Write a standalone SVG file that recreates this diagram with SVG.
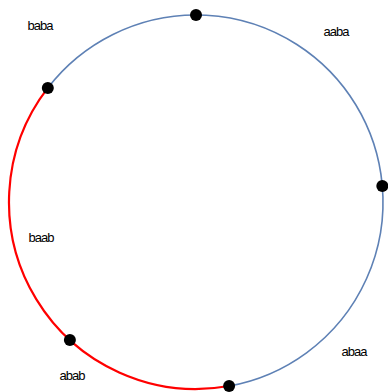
<svg xmlns="http://www.w3.org/2000/svg" width="388" height="392" viewBox="0 0 388 392">
<style>
.lbl{font-family:"Liberation Sans",Arial,sans-serif;font-size:13px;letter-spacing:-1px;fill:#000;text-anchor:middle}
.dot{fill:#000}
</style>
<rect width="388" height="392" fill="#fff"/>
<g id="connectors" fill="none">
<path d="M229.1,386 A187,187 0 1 0 47.8,87.9" stroke="#5E81B5" stroke-width="1.6"/>
<path d="M47.8,87.9 A187,187 0 0 0 229.1,386" stroke="#FF0000" stroke-width="2.2"/>
</g>
<g id="n1"><circle class="dot" cx="196" cy="15" r="6"/></g>
<g id="n2"><circle class="dot" cx="382.3" cy="186" r="6"/></g>
<g id="n3"><circle class="dot" cx="229.1" cy="386" r="6"/></g>
<g id="n4"><circle class="dot" cx="69.9" cy="340.1" r="6"/></g>
<g id="n5"><circle class="dot" cx="47.8" cy="87.9" r="6"/></g>
<g id="labels">
<text class="lbl" x="40" y="30">baba</text>
<text class="lbl" x="336" y="36">aaba</text>
<text class="lbl" x="41" y="242">baab</text>
<text class="lbl" x="72" y="380">abab</text>
<text class="lbl" x="354" y="356">abaa</text>
</g>
</svg>
